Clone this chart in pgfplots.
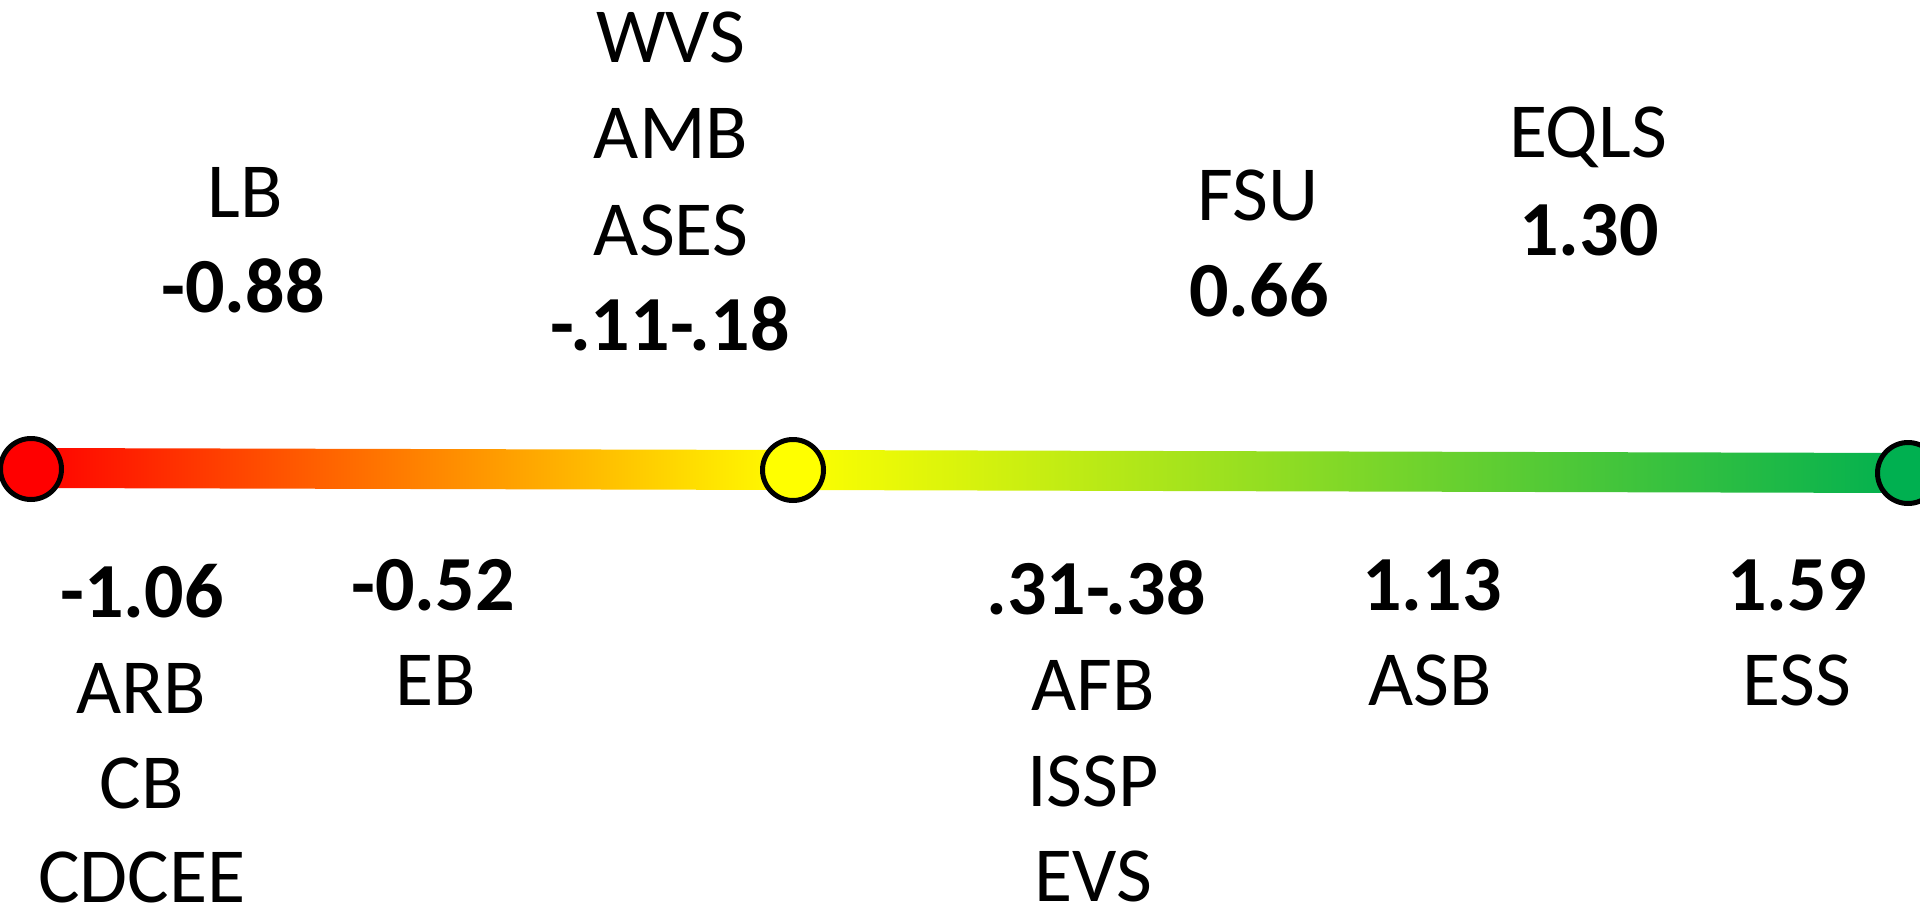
\documentclass[border=0pt]{standalone}
\usepackage{fontspec}
\setmainfont{Carlito}
\usepackage{pgfplots}
\pgfplotsset{compat=1.18}
\definecolor{cred}{RGB}{255,0,0}
\definecolor{cyel}{RGB}{255,255,0}
\definecolor{cgrn}{RGB}{0,176,80}
\tikzset{
  lbl/.style={anchor=base, inner sep=0pt, text depth=0pt, font=\fontsize{39bp}{48bp}\selectfont},
  num/.style={anchor=base, inner sep=0pt, text depth=0pt, font=\fontsize{39bp}{48bp}\selectfont\bfseries}
}
\begin{document}
\begin{tikzpicture}
\begin{axis}[name=ax, hide axis, scale only axis,
  width=960bp, height=455.5bp,
  xmin=0, xmax=1920, ymin=0, ymax=911, y dir=reverse, clip=false]
% gradient band
\addplot[draw=none, left color=cred, right color=cyel]
  coordinates {(31,448) (793,450) (793,490) (31,488)} -- cycle;
\addplot[draw=none, left color=cyel, right color=cgrn]
  coordinates {(793,450) (1908,453) (1908,493) (793,490)} -- cycle;
% circles
\addplot[only marks, mark=*, mark size=15.25bp,
  mark options={fill=cred, draw=black, line width=2.5bp}] coordinates {(31,469)};
\addplot[only marks, mark=*, mark size=15.25bp,
  mark options={fill=cyel, draw=black, line width=2.5bp}] coordinates {(793,470)};
\addplot[only marks, mark=*, mark size=15.25bp,
  mark options={fill=cgrn, draw=black, line width=2.5bp}] coordinates {(1908,473)};
% top labels
\node[lbl] at (axis cs:245,217) {LB};
\node[num] at (axis cs:243,312) {-0.88};
\node[lbl] at (axis cs:671,63) {WVS};
\node[lbl] at (axis cs:671,159) {AMB};
\node[lbl] at (axis cs:671,255) {ASES};
\node[num] at (axis cs:670,350) {-.11-.18};
\node[lbl] at (axis cs:1258,220) {FSU};
\node[num] at (axis cs:1259,316) {0.66};
\node[lbl] at (axis cs:1588,158) {EQLS};
\node[num] at (axis cs:1589,255) {1.30};
% bottom labels
\node[num] at (axis cs:142,617) {-1.06};
\node[lbl] at (axis cs:141,713) {ARB};
\node[lbl] at (axis cs:142,808) {CB};
\node[lbl] at (axis cs:142,902) {CDCEE};
\node[num] at (axis cs:433,610) {-0.52};
\node[lbl] at (axis cs:436,705) {EB};
\node[num] at (axis cs:1096,614) {.31-.38};
\node[lbl] at (axis cs:1093,710) {AFB};
\node[lbl] at (axis cs:1093,806) {ISSP};
\node[lbl] at (axis cs:1093,901) {EVS};
\node[num] at (axis cs:1432,610) {1.13};
\node[lbl] at (axis cs:1430,705) {ASB};
\node[num] at (axis cs:1797,610) {1.59};
\node[lbl] at (axis cs:1797,705) {ESS};
\end{axis}
\pgfresetboundingbox
\path (ax.south west) rectangle (ax.north east);
\end{tikzpicture}
\end{document}
